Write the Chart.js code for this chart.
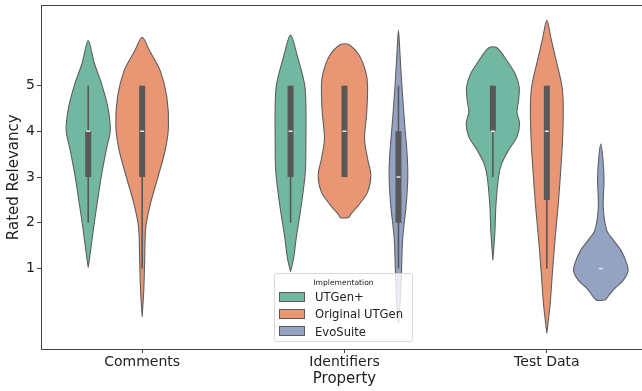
<!DOCTYPE html>
<html lang="en">
<head>
<meta charset="UTF-8">
<title>Rated Relevancy by Property</title>
<script src="https://cdn.jsdelivr.net/npm/chart.js"></script>
<style>
body {
  margin: 0;
  background: #fff;
  overflow: hidden;
  font-family: "DejaVu Sans", sans-serif;
}
#wrap {
  position: relative;
  width: 660px;
  height: 391px;
}
#legend {
  position: absolute;
  left: 274px;
  top: 273px;
  width: 139px;
  height: 69px;
  box-sizing: border-box;
  border: 1px solid #d8d8d8;
  border-radius: 3px;
  background: rgba(255, 255, 255, 0.8);
  color: #222;
}
#legend .title {
  position: absolute;
  left: 0;
  right: 0;
  top: 4px;
  text-align: center;
  font-size: 7.6px;
}
#legend .row {
  position: absolute;
  left: 4px;
  height: 14px;
  font-size: 11.6px;
  line-height: 14px;
  white-space: nowrap;
}
#legend .swatch {
  display: inline-block;
  width: 24px;
  height: 8px;
  border: 1px solid #5a5a5a;
  vertical-align: middle;
  margin-right: 10px;
  position: relative;
  top: -1px;
}
</style>
</head>
<body>

<div id="wrap">
  <canvas id="chart" width="660" height="391"></canvas>
  <div id="legend"><div class="title">Implementation</div></div>
</div>

<script>
const categories = ['Comments', 'Identifiers', 'Test Data'];
const implementations = ['UTGen+', 'Original UTGen', 'EvoSuite'];
const yTickValues = [1, 2, 3, 4, 5];

// violin outlines: rating levels and half width (in category units)
// box values: [whisker low, q1, median, q3, whisker high]
const commentsUtgenPlusLevels = [1.02, 1.40, 1.84, 2.42, 3.00, 3.59, 4.02, 4.53, 5.04, 5.48, 5.99];
const commentsUtgenPlusWidths = [0, .012, .025, .044, .064, .089, .109, .097, .066, .031, 0];
const commentsUtgenPlusBox = [2, 3, 4, 4, 5];

const commentsOriginalLevels = [-0.06, 0.53, 1.11, 1.69, 1.98, 2.42, 3.00, 3.59, 4.10, 4.75, 5.33, 5.77, 6.06];
const commentsOriginalWidths = [0, .008, .012, .015, .020, .041, .078, .114, .130, .122, .089, .036, 0];
const commentsOriginalBox = [1, 3, 4, 5, 5];

const identUtgenPlusLevels = [0.93, 1.22, 1.66, 2.38, 3.11, 3.84, 4.57, 5.04, 5.66, 6.11];
const identUtgenPlusWidths = [0, .015, .028, .053, .073, .076, .076, .069, .033, 0];
const identUtgenPlusBox = [2, 3, 4, 5, 5];

const identOriginalLevels = [2.11, 2.20, 2.38, 2.67, 3.04, 3.40, 3.84, 4.42, 5.01, 5.30, 5.66, 5.90];
const identOriginalWidths = [.020, .033, .069, .114, .130, .114, .099, .110, .114, .105, .073, .020];
const identOriginalBox = [3, 3, 4, 5, 5];

const identEvoLevels = [-0.20, 0.35, 0.93, 1.66, 2.38, 2.97, 3.48, 4.20, 4.93, 5.66, 6.21];
const identEvoWidths = [0, .010, .015, .021, .038, .046, .043, .030, .018, .008, 0];
const identEvoBox = [1, 2, 3, 4, 5];

const testUtgenPlusLevels = [1.18, 1.80, 2.38, 3.00, 3.30, 3.59, 3.88, 4.17, 4.42, 4.68, 4.97, 5.26, 5.55, 5.83];
const testUtgenPlusWidths = [0, .010, .015, .028, .044, .078, .119, .132, .119, .127, .130, .110, .069, .020];
const testUtgenPlusBox = [3, 4, 4, 5, 5];

const testOriginalLevels = [-0.42, 0.20, 0.93, 1.66, 2.38, 3.11, 3.84, 4.57, 5.01, 5.59, 6.03, 6.43];
const testOriginalWidths = [0, .016, .028, .041, .056, .068, .078, .081, .074, .044, .021, 0];
const testOriginalBox = [1, 2.5, 4, 5, 5];

const testEvoLevels = [0.31, 0.53, 0.74, 0.93, 1.11, 1.40, 1.62, 1.84, 2.35, 2.93, 3.37, 3.72];
const testEvoWidths = [.023, .062, .111, .134, .128, .099, .062, .029, .012, .016, .011, 0];
const testEvoBox = [1, 1, 1, 1, 1];

const fillColors = ['#72b7a1', '#e99675', '#95a3c3'];
const edgeColor = '#5f5f5f';
const boxColor = '#585858';

// [category, implementation, levels, widths, box]
const violins = [
  [0, 0, commentsUtgenPlusLevels, commentsUtgenPlusWidths, commentsUtgenPlusBox],
  [0, 1, commentsOriginalLevels, commentsOriginalWidths, commentsOriginalBox],
  [1, 0, identUtgenPlusLevels, identUtgenPlusWidths, identUtgenPlusBox],
  [1, 1, identOriginalLevels, identOriginalWidths, identOriginalBox],
  [1, 2, identEvoLevels, identEvoWidths, identEvoBox],
  [2, 0, testUtgenPlusLevels, testUtgenPlusWidths, testUtgenPlusBox],
  [2, 1, testOriginalLevels, testOriginalWidths, testOriginalBox],
  [2, 2, testEvoLevels, testEvoWidths, testEvoBox]
];

const dodge = 0.8 / 3;

function outline(center, levels, widths) {
  const right = levels.map((y, i) => ({x: center + widths[i], y: y}));
  const left = [];
  for (let i = levels.length - 1; i >= 0; i--) {
    if (widths[i] > 0) left.push({x: center - widths[i], y: levels[i]});
  }
  return right.concat(left, [right[0]]);
}

const datasets = [];
violins.forEach(([cat, imp, levels, widths, box]) => {
  const c = cat + (imp - 1) * dodge;
  datasets.push({
    data: outline(c, levels, widths),
    showLine: true,
    fill: 'shape',
    backgroundColor: fillColors[imp],
    borderColor: edgeColor,
    borderWidth: 1.1,
    pointRadius: 0,
    tension: 0.3,
    order: 3
  });
  datasets.push({
    data: [{x: c, y: box[0]}, {x: c, y: box[4]}],
    showLine: true,
    borderColor: boxColor,
    borderWidth: 1.6,
    pointRadius: 0,
    order: 2
  });
  datasets.push({
    data: [{x: c, y: box[1]}, {x: c, y: box[3]}],
    showLine: true,
    borderColor: boxColor,
    borderWidth: 6,
    borderCapStyle: 'butt',
    pointRadius: 0,
    order: 1
  });
  datasets.push({
    data: [{x: c, y: box[2]}],
    showLine: false,
    pointStyle: 'line',
    pointRadius: 2,
    pointBorderColor: '#e8e8e8',
    pointBorderWidth: 1.5,
    order: 0
  });
});

function noPad(s) {
  s.paddingTop = 0;
  s.paddingBottom = 0;
  s.paddingLeft = 0;
  s.paddingRight = 0;
}

new Chart(document.getElementById('chart'), {
  type: 'scatter',
  data: { datasets: datasets },
  options: {
    responsive: false,
    animation: false,
    devicePixelRatio: 1,
    layout: { padding: { top: 5, right: 12, bottom: 0, left: 0 } },
    plugins: { legend: { display: false }, tooltip: { enabled: false } },
    scales: {
      x: {
        type: 'linear',
        min: -0.5,
        max: 2.5,
        afterBuildTicks: s => { s.ticks = categories.map((_, i) => ({value: i})); },
        afterFit: s => { s.height = 42; noPad(s); },
        ticks: {
          callback: v => categories[v],
          color: '#222',
          font: { family: 'DejaVu Sans', size: 14 },
          padding: 1,
          maxRotation: 0
        },
        grid: { drawOnChartArea: false, drawTicks: true, tickLength: 4, color: '#444' },
        border: { display: true, color: '#444', width: 1 },
        title: {
          display: true,
          text: 'Property',
          color: '#222',
          font: { family: 'DejaVu Sans', size: 15 },
          padding: { top: 0, bottom: 3 }
        }
      },
      top: {
        type: 'linear',
        position: 'top',
        min: -0.5,
        max: 2.5,
        afterFit: s => { s.height = 0; noPad(s); },
        ticks: { display: false },
        grid: { drawOnChartArea: false, drawTicks: false },
        border: { display: true, color: '#444', width: 1 }
      },
      y: {
        type: 'linear',
        min: -0.764,
        max: 6.755,
        afterBuildTicks: s => { s.ticks = yTickValues.map(v => ({value: v})); },
        afterFit: s => { s.width = 41; noPad(s); },
        ticks: {
          color: '#222',
          font: { family: 'DejaVu Sans', size: 14 },
          padding: 2
        },
        grid: { drawOnChartArea: false, drawTicks: true, tickLength: 4, color: '#444' },
        border: { display: true, color: '#444', width: 1 },
        title: {
          display: true,
          text: 'Rated Relevancy',
          color: '#222',
          font: { family: 'DejaVu Sans', size: 15 },
          padding: { top: 5, bottom: 0 }
        }
      }
    }
  }
});

// legend entries
const legend = document.getElementById('legend');
implementations.forEach((name, i) => {
  const row = document.createElement('div');
  row.className = 'row';
  row.style.top = (16 + i * 17.3) + 'px';
  row.innerHTML = `<span class="swatch" style="background:${fillColors[i]}"></span>${name}`;
  legend.appendChild(row);
});
</script>

</body>
</html>
